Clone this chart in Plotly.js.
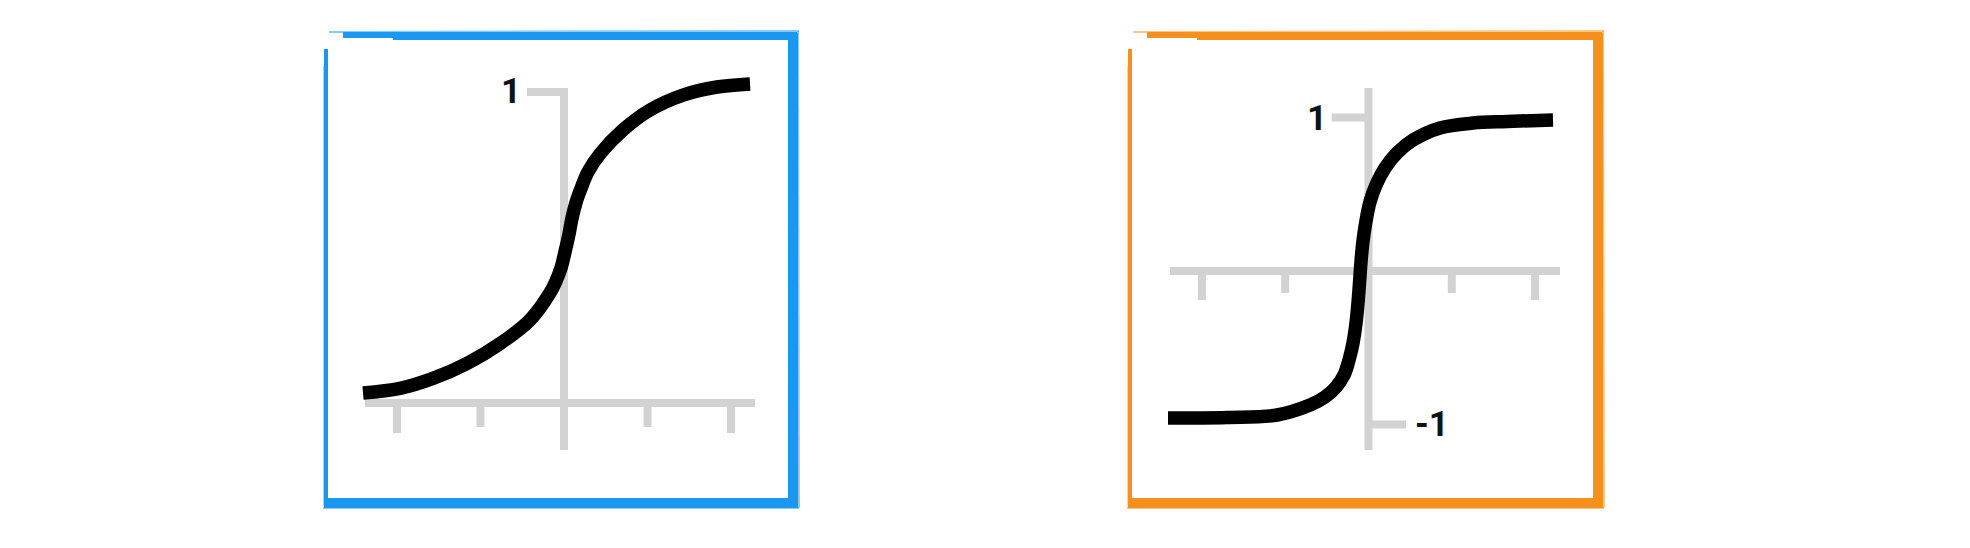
<!DOCTYPE html>
<html>
<head>
<meta charset="utf-8">
<script src="https://cdn.plot.ly/plotly-3.0.1.min.js"></script>
<style>
  html, body { margin: 0; padding: 0; background: #ffffff; }
  #chart { width: 1970px; height: 548px; }
</style>
</head>
<body>
<div id="chart"></div>
<script>
// ---- Data: left panel (sigmoid-like curve) ----
const sigmoidX = [-2.407, -1.964, -1.569, -1.162, -0.766, -0.407, -0.168, -0.096, -0.036, 0.012, 0.060, 0.096, 0.144, 0.204, 0.287, 0.431, 0.707, 1.030, 1.425, 1.832, 2.228];
const sigmoidY = [0.032, 0.047, 0.079, 0.127, 0.191, 0.267, 0.354, 0.392, 0.434, 0.486, 0.543, 0.595, 0.645, 0.690, 0.743, 0.801, 0.878, 0.942, 0.990, 1.016, 1.026];

// ---- Data: right panel (tanh-like curve) ----
const tanhX = [-2.407, -1.699, -1.098, -0.702, -0.522, -0.390, -0.294, -0.234, -0.186, -0.150, -0.126, -0.108, -0.090, -0.066, -0.030, 0.018, 0.090, 0.198, 0.342, 0.534, 0.858, 1.255, 1.663, 2.215];
const tanhY = [-0.958, -0.954, -0.938, -0.873, -0.821, -0.756, -0.678, -0.580, -0.469, -0.339, -0.208, -0.078, 0.059, 0.195, 0.326, 0.450, 0.560, 0.671, 0.769, 0.853, 0.932, 0.964, 0.974, 0.984];

// ---- Axis sketch values ----
const tickValues = [-2, -1, 1, 2];
const leftYTickLabels = ["1"];
const rightYTickLabels = ["1", "-1"];
const leftYTickValues = [1];
const rightYTickValues = [1, -1];

// ---- Layout helpers (pixels -> paper) ----
const W = 1970, H = 548;
const px = v => v / W;
const py = v => 1 - v / H;

const axisGray = '#d2d2d2';
const blue = '#1a97f0';
const orange = '#f5901c';

const L = {x0: 564, y0: 403, sx: 83.5, sy: 311, box: [320, 802, 28, 512]};
const R = {x0: 1368.5, y0: 271, sx: 83.3, sy: 153.5, box: [1124, 1607, 28, 512]};

function rangeX(P) { return [(P.box[0] - P.x0) / P.sx, (P.box[1] - P.x0) / P.sx]; }
function rangeY(P) { return [(P.y0 - P.box[3]) / P.sy, (P.y0 - P.box[2]) / P.sy]; }
function pxToX(P, v) { return (v - P.x0) / P.sx; }
function pxToY(P, v) { return (P.y0 - v) / P.sy; }

const AXW = 8, CURVEW = 13.5;

function tickTrace(P, xa, ya, majorEnd, minorEnd) {
  const xs = [], ys = [];
  tickValues.forEach(t => {
    const len = Math.abs(t) === 2 ? majorEnd : minorEnd;
    xs.push(t, t, null);
    ys.push(0, pxToY(P, len), null);
  });
  return {x: xs, y: ys, xaxis: xa, yaxis: ya, mode: 'lines',
          line: {color: axisGray, width: AXW}, hoverinfo: 'skip', showlegend: false};
}

const traces = [];

// ---------- Left panel ----------
traces.push({
  x: [pxToX(L, 365), pxToX(L, 755)], y: [0, 0], xaxis: 'x', yaxis: 'y', mode: 'lines',
  line: {color: axisGray, width: AXW}, hoverinfo: 'skip', showlegend: false
});
traces.push(tickTrace(L, 'x', 'y', 433, 427));
traces.push({
  x: [pxToX(L, 527), 0, 0], y: [leftYTickValues[0], leftYTickValues[0], pxToY(L, 450)],
  xaxis: 'x', yaxis: 'y', mode: 'lines',
  line: {color: axisGray, width: AXW}, hoverinfo: 'skip', showlegend: false
});
traces.push({
  x: sigmoidX, y: sigmoidY, xaxis: 'x', yaxis: 'y', mode: 'lines',
  line: {color: '#000000', width: CURVEW, shape: 'spline', smoothing: 1, simplify: false},
  hoverinfo: 'skip', showlegend: false
});

// ---------- Right panel ----------
traces.push({
  x: [pxToX(R, 1170), pxToX(R, 1560)], y: [0, 0], xaxis: 'x2', yaxis: 'y2', mode: 'lines',
  line: {color: axisGray, width: AXW}, hoverinfo: 'skip', showlegend: false
});
traces.push(tickTrace(R, 'x2', 'y2', 300, 293));
traces.push({
  x: [0, 0], y: [pxToY(R, 88), pxToY(R, 450)], xaxis: 'x2', yaxis: 'y2', mode: 'lines',
  line: {color: axisGray, width: AXW}, hoverinfo: 'skip', showlegend: false
});
traces.push({
  x: [pxToX(R, 1331.7), 0, null, 0, pxToX(R, 1406)],
  y: [rightYTickValues[0], rightYTickValues[0], null, rightYTickValues[1], rightYTickValues[1]],
  xaxis: 'x2', yaxis: 'y2', mode: 'lines',
  line: {color: axisGray, width: AXW}, hoverinfo: 'skip', showlegend: false
});
traces.push({
  x: tanhX, y: tanhY, xaxis: 'x2', yaxis: 'y2', mode: 'lines',
  line: {color: '#000000', width: CURVEW, shape: 'spline', smoothing: 1, simplify: false},
  hoverinfo: 'skip', showlegend: false
});

// ---------- Sketchy frames ----------
function frame(color, x1, x2, y1, y2) {
  const s = [];
  const ln = (ax, ay, bx, by, w, op) => s.push({
    type: 'line', xref: 'paper', yref: 'paper',
    x0: px(ax), y0: py(ay), x1: px(bx), y1: py(by),
    line: {color: color, width: w}, opacity: op, layer: 'above'
  });
  ln(x1 + 20, y1 + 4, x2 - 2, y1 + 4, 6, 1);         // top
  ln(x1 + 70, y1 + 6, x2 - 2, y1 + 6, 6, 1);         // top, thicker part
  ln(x2 - 6, y1 + 2, x2 - 6, y2 - 1, 10, 1);         // right
  ln(x1 + 1, y2 - 5, x2 - 1, y2 - 5, 10, 1);         // bottom
  ln(x1 + 3, y1 + 18, x1 + 3, y2 - 1, 4, 1);         // left
  ln(x1 + 6, y1 + 1, x2, y1, 2, 0.5);
  ln(x2 - 1, y1, x2, y2, 2, 0.5);
  ln(x1, y2, x2, y2, 2, 0.5);
  ln(x1 + 1, y1 + 35, x1 + 1, y2 - 2, 2, 0.4);
  return s;
}

const shapes = [].concat(
  frame(blue, 323, 799, 31, 508),
  frame(orange, 1127, 1604, 31, 508)
);

const labelFont = {family: 'Roboto', size: 35, weight: 700, color: '#111111'};
const annotations = [
  {x: pxToX(L, 511), y: pxToY(L, 91), xref: 'x', yref: 'y', text: leftYTickLabels[0],
   showarrow: false, font: labelFont, xanchor: 'center', yanchor: 'middle'},
  {x: pxToX(R, 1316.7), y: pxToY(R, 118.3), xref: 'x2', yref: 'y2', text: rightYTickLabels[0],
   showarrow: false, font: labelFont, xanchor: 'center', yanchor: 'middle'},
  {x: pxToX(R, 1432), y: pxToY(R, 424), xref: 'x2', yref: 'y2', text: rightYTickLabels[1],
   showarrow: false, font: labelFont, xanchor: 'center', yanchor: 'middle'}
];

const hidden = {visible: false, showgrid: false, zeroline: false, showticklabels: false, fixedrange: true};

const layout = {
  width: W, height: H,
  margin: {l: 0, r: 0, t: 0, b: 0, pad: 0},
  paper_bgcolor: '#ffffff', plot_bgcolor: 'rgba(0,0,0,0)',
  showlegend: false,
  xaxis: Object.assign({}, hidden, {domain: [px(L.box[0]), px(L.box[1])], range: rangeX(L), anchor: 'y'}),
  yaxis: Object.assign({}, hidden, {domain: [py(L.box[3]), py(L.box[2])], range: rangeY(L), anchor: 'x'}),
  xaxis2: Object.assign({}, hidden, {domain: [px(R.box[0]), px(R.box[1])], range: rangeX(R), anchor: 'y2'}),
  yaxis2: Object.assign({}, hidden, {domain: [py(R.box[3]), py(R.box[2])], range: rangeY(R), anchor: 'x2'}),
  shapes: shapes,
  annotations: annotations
};

Plotly.newPlot('chart', traces, layout, {displayModeBar: false, staticPlot: true});
</script>
</body>
</html>
